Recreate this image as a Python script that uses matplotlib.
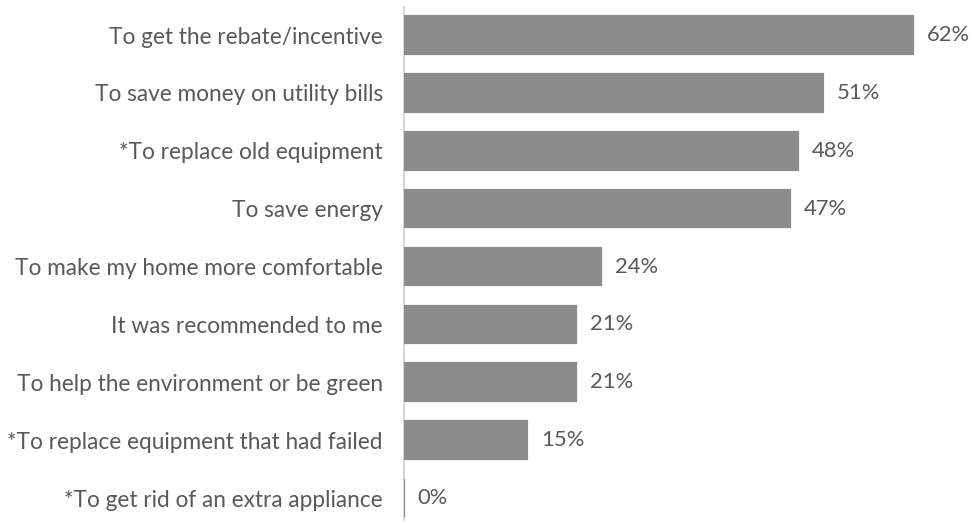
import matplotlib
matplotlib.use("Agg")
import matplotlib.pyplot as plt

reasons = [
    "To get the rebate/incentive",
    "To save money on utility bills",
    "*To replace old equipment",
    "To save energy",
    "To make my home more comfortable",
    "It was recommended to me",
    "To help the environment or be green",
    "*To replace equipment that had failed",
    "*To get rid of an extra appliance",
]
shares = [62, 51, 48, 47, 24, 21, 21, 15, 0]

bar_color = "#8c8c8c"
text_color = "#595959"
font = ["Lato", "DejaVu Sans"]

fig = plt.figure(figsize=(9.73, 5.23), dpi=100)
ax = fig.add_axes([0.415, 0.0057, 0.585, 0.9809])

pos = list(range(len(reasons)))
ax.barh(pos, shares, height=0.65, color=bar_color, edgecolor=bar_color,
        linewidth=1.6, zorder=3)

for p, v in zip(pos, shares):
    ax.annotate(f"{v}%", xy=(v, p), xytext=(10, 0), textcoords="offset points",
                va="center", ha="left", fontsize=15.8, color=text_color, family=font)

ax.set_xlim(0, 69.3)
ax.set_ylim(8.38, -0.484)
ax.set_yticks(pos)
ax.set_yticklabels(reasons, fontsize=16.3, color=text_color, family=font)
ax.tick_params(axis="y", length=0, pad=15)
ax.set_xticks([])
for side in ["top", "right", "bottom"]:
    ax.spines[side].set_visible(False)
ax.spines["left"].set_color("#d0d0d0")
ax.spines["left"].set_linewidth(1.2)
ax.spines["left"].set_zorder(1)

fig.savefig("out.png", dpi=100)
